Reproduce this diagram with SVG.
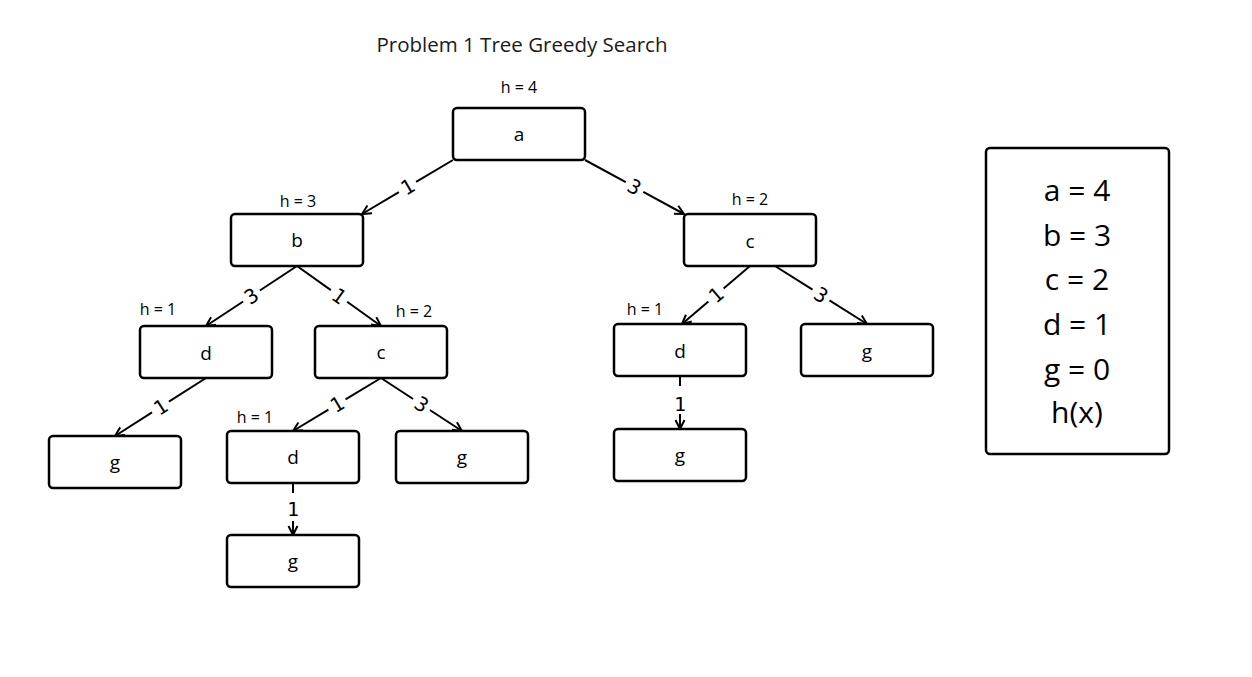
<svg xmlns="http://www.w3.org/2000/svg" width="1252" height="677" viewBox="0 0 1252 677">
<defs>
<marker id="arr" markerUnits="userSpaceOnUse" markerWidth="14" markerHeight="14" refX="11" refY="6" orient="auto">
<path d="M2,1.5 L11,6 L2,10.5" fill="none" stroke="#000" stroke-width="2" stroke-linejoin="miter"/>
</marker>
<style>
.box{fill:#fff;stroke:#000;stroke-width:2.5}
.nl{font-family:"Open Sans","Liberation Sans",sans-serif;font-size:19px;fill:#000;text-anchor:middle}
.hl{font-family:"Open Sans","Liberation Sans",sans-serif;font-size:16px;fill:#000;text-anchor:middle}
.el{font-family:"DejaVu Sans Mono","Liberation Mono",monospace;font-size:20px;fill:#000;text-anchor:middle;dominant-baseline:central}
.e{fill:none;stroke:#000;stroke-width:2;marker-end:url(#arr)}
.lg{font-family:"Open Sans","Liberation Sans",sans-serif;font-size:30px;fill:#000;text-anchor:middle}
</style>
</defs>
<rect width="1252" height="677" fill="#fff"/>
<text x="522" y="52" font-family="'Open Sans','Liberation Sans',sans-serif" font-size="20.5" text-anchor="middle" fill="#1a1a1a">Problem 1 Tree Greedy Search</text>

<g id="connectors">
<path class="e" d="M453,160 L362,214" stroke-dasharray="42.9 20 1000"/>
<text class="el" transform="translate(407.5,187) rotate(-30.7)">1</text>
<path class="e" d="M585,160 L684,214" stroke-dasharray="46.4 20 1000"/>
<text class="el" transform="translate(634.5,187) rotate(28.6)">3</text>
<path class="e" d="M297,266 L206,326" stroke-dasharray="44.5 20 1000"/>
<text class="el" transform="translate(251.5,296) rotate(-33.4)">3</text>
<path class="e" d="M297,266 L381,326" stroke-dasharray="41.6 20 1000"/>
<text class="el" transform="translate(339,296) rotate(35.5)">1</text>
<path class="e" d="M206,378 L115,436" stroke-dasharray="44 20 1000"/>
<text class="el" transform="translate(160.5,407) rotate(-32.5)">1</text>
<path class="e" d="M381,378 L293,431" stroke-dasharray="41.4 20 1000"/>
<text class="el" transform="translate(337,404.5) rotate(-31.1)">1</text>
<path class="e" d="M381,378 L462,431" stroke-dasharray="38.4 20 1000"/>
<text class="el" transform="translate(421.5,404.5) rotate(33.2)">3</text>
<path class="e" d="M293,483 L293,535" stroke-dasharray="10 28 1000"/>
<text class="el" x="293" y="509">1</text>
<path class="e" d="M750,266 L682,324" stroke-dasharray="34.7 20 1000"/>
<text class="el" transform="translate(716,295) rotate(-40.5)">1</text>
<path class="e" d="M775,266 L867,324" stroke-dasharray="44.4 20 1000"/>
<text class="el" transform="translate(821,295) rotate(32.2)">3</text>
<path class="e" d="M680,376 L680,429" stroke-dasharray="10 28 1000"/>
<text class="el" x="680" y="404">1</text>
</g>

<g id="node-a"><rect class="box" x="453" y="108" width="132" height="52" rx="4"/><text class="nl" x="519" y="141">a</text><text class="hl" x="519" y="93">h = 4</text></g>
<g id="node-b"><rect class="box" x="231" y="214" width="132" height="52" rx="4"/><text class="nl" x="297" y="247">b</text><text class="hl" x="298" y="207">h = 3</text></g>
<g id="node-c1"><rect class="box" x="684" y="214" width="132" height="52" rx="4"/><text class="nl" x="750" y="248">c</text><text class="hl" x="750" y="205">h = 2</text></g>
<g id="node-d1"><rect class="box" x="140" y="326" width="132" height="52" rx="4"/><text class="nl" x="206" y="360">d</text><text class="hl" x="158" y="315">h = 1</text></g>
<g id="node-c2"><rect class="box" x="315" y="326" width="132" height="52" rx="4"/><text class="nl" x="381" y="359">c</text><text class="hl" x="414" y="317">h = 2</text></g>
<g id="node-d2"><rect class="box" x="614" y="324" width="132" height="52" rx="4"/><text class="nl" x="680" y="358">d</text><text class="hl" x="645" y="315">h = 1</text></g>
<g id="node-g1"><rect class="box" x="801" y="324" width="132" height="52" rx="4"/><text class="nl" x="867" y="358">g</text></g>
<g id="node-g2"><rect class="box" x="49" y="436" width="132" height="52" rx="4"/><text class="nl" x="115" y="469">g</text></g>
<g id="node-d3"><rect class="box" x="227" y="431" width="132" height="52" rx="4"/><text class="nl" x="293" y="464">d</text><text class="hl" x="255" y="423">h = 1</text></g>
<g id="node-g3"><rect class="box" x="396" y="431" width="132" height="52" rx="4"/><text class="nl" x="462" y="464">g</text></g>
<g id="node-g4"><rect class="box" x="614" y="429" width="132" height="52" rx="4"/><text class="nl" x="680" y="462">g</text></g>
<g id="node-g5"><rect class="box" x="227" y="535" width="132" height="52" rx="4"/><text class="nl" x="293" y="568">g</text></g>

<g id="legend">
<rect class="box" x="986" y="148" width="183" height="306" rx="4"/>
<text class="lg" x="1077" y="201">a = 4</text>
<text class="lg" x="1077" y="246">b = 3</text>
<text class="lg" x="1077" y="290">c = 2</text>
<text class="lg" x="1077" y="335">d = 1</text>
<text class="lg" x="1077" y="380">g = 0</text>
<text class="lg" x="1077" y="423">h(x)</text>
</g>
</svg>
